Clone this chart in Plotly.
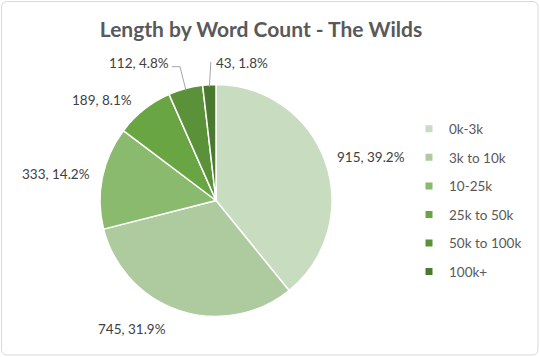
import math
import plotly.graph_objects as go

# Story counts per word-count bracket
categories = ["0k-3k", "3k to 10k", "10-25k", "25k to 50k", "50k to 100k", "100k+"]
story_counts = [915, 745, 333, 189, 112, 43]

slice_colors = ["#C8DCC0", "#ADCB9E", "#8ABA6D", "#6AA544", "#5A9139", "#4A7A30"]

W, H = 540, 357
PIE_CX, PIE_CY, PIE_R = 216, 200.5, 116

FONT = "Lato, 'Open Sans', sans-serif"
LABEL_COLOR = "#404040"
LEGEND_COLOR = "#595959"


def px(x):
    return x / W


def py(y):
    return 1 - y / H


total = sum(story_counts)
fractions = [v / total for v in story_counts]

fig = go.Figure()

fig.add_trace(go.Pie(
    labels=categories,
    values=story_counts,
    sort=False,
    direction="clockwise",
    rotation=0,
    textinfo="none",
    hoverinfo="label+value+percent",
    marker=dict(colors=slice_colors, line=dict(color="white", width=1.5)),
    domain=dict(
        x=[px(PIE_CX - PIE_R), px(PIE_CX + PIE_R)],
        y=[py(PIE_CY + PIE_R), py(PIE_CY - PIE_R)],
    ),
    showlegend=False,
))

# Legend entries (one group per category so the rows can be spaced out)
for name, color in zip(categories, slice_colors):
    fig.add_trace(go.Scatter(
        x=[None], y=[None], mode="markers", name=name,
        legendgroup=name,
        marker=dict(symbol="square", size=7, color=color),
        hoverinfo="skip",
    ))

# Data labels: offset from the outer edge of each slice at its mid-angle
label_offsets = [(45.6, -4.8), (-48, 18.4), (-46, -3.6), (-42, -9.6), (-46, -25.6), (33, -21.7)]

annotations = []
shapes = []
cum = 0.0
for i, (val, frac) in enumerate(zip(story_counts, fractions)):
    mid = (cum + frac / 2) * 2 * math.pi
    cum += frac
    ex = PIE_CX + PIE_R * math.sin(mid)
    ey = PIE_CY - PIE_R * math.cos(mid)
    dx, dy = label_offsets[i]
    lx, ly = ex + dx, ey + dy
    annotations.append(dict(
        x=px(lx), y=py(ly), xref="paper", yref="paper",
        xanchor="center", yanchor="middle", showarrow=False,
        text=f"{val}, {frac * 100:.1f}%",
        font=dict(family=FONT, size=13.5, color=LABEL_COLOR),
    ))
    # leader lines for the two thinnest slices
    sx = PIE_CX + (PIE_R - 2) * math.sin(mid)
    sy = PIE_CY - (PIE_R - 2) * math.cos(mid)
    if categories[i] == "50k to 100k":
        pts = [(sx, sy), (lx + 40.5, ly + 3.7), (lx + 32.5, ly + 3.7)]
    elif categories[i] == "100k+":
        pts = [(sx, sy), (lx - 31.5, ly - 1)]
    else:
        pts = []
    if pts:
        path = "M " + " L ".join(f"{px(a):.5f},{py(b):.5f}" for a, b in pts)
        shapes.append(dict(type="path", path=path, xref="paper", yref="paper",
                           line=dict(color="#A6A6A6", width=1)))

# Rounded chart border
r = 6
x0, y0, x1, y1 = 1.5, 1.5, W - 2, H - 2
border = (
    f"M {px(x0 + r)},{py(y0)} L {px(x1 - r)},{py(y0)} "
    f"Q {px(x1)},{py(y0)} {px(x1)},{py(y0 + r)} L {px(x1)},{py(y1 - r)} "
    f"Q {px(x1)},{py(y1)} {px(x1 - r)},{py(y1)} L {px(x0 + r)},{py(y1)} "
    f"Q {px(x0)},{py(y1)} {px(x0)},{py(y1 - r)} L {px(x0)},{py(y0 + r)} "
    f"Q {px(x0)},{py(y0)} {px(x0 + r)},{py(y0)} Z"
)
shapes.append(dict(type="path", path=border, xref="paper", yref="paper",
                   line=dict(color="#D9D9D9", width=1), layer="below"))

fig.update_layout(
    width=W, height=H,
    margin=dict(l=0, r=0, t=0, b=0),
    paper_bgcolor="white", plot_bgcolor="white",
    title=dict(
        text="<b>Length by Word Count - The Wilds</b>",
        x=px(261), y=py(30), xref="paper", yref="paper",
        xanchor="center", yanchor="middle",
        font=dict(family=FONT, size=21, color="#595959"),
    ),
    xaxis=dict(visible=False), yaxis=dict(visible=False),
    showlegend=True,
    legend=dict(
        x=px(409), y=py(113.5), xanchor="left", yanchor="top",
        font=dict(family=FONT, size=13.5, color=LEGEND_COLOR),
        tracegroupgap=8, bgcolor="rgba(0,0,0,0)",
        itemclick=False, itemdoubleclick=False,
    ),
    annotations=annotations,
    shapes=shapes,
)

fig.write_html("out.html")
